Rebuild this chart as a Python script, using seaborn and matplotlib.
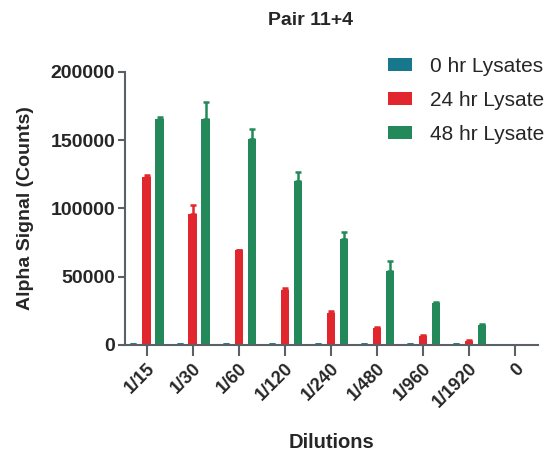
import numpy as np
import pandas as pd
import seaborn as sns
import matplotlib.pyplot as plt
from matplotlib.patches import Patch

dilutions = ["1/15", "1/30", "1/60", "1/120", "1/240", "1/480", "1/960", "1/1920", "0"]
series = ["0 hr Lysates", "24 hr Lysate", "48 hr Lysate"]

lys_0hr = [900, 700, 600, 600, 700, 300, 700, 800, 0]
lys_24hr = [122800, 95800, 69600, 40200, 23200, 12200, 6300, 2900, 0]
lys_48hr = [165700, 165700, 150700, 120000, 77600, 54100, 30400, 14700, 0]

err_0hr = [0, 0, 0, 0, 0, 0, 0, 0, 0]
err_24hr = [1500, 6900, 0, 1500, 1500, 1000, 1000, 600, 0]
err_48hr = [1000, 12000, 7500, 6600, 5000, 7400, 800, 800, 0]

colors = ["#17778c", "#e2262d", "#23895a"]

df = pd.DataFrame({
    "Dilutions": dilutions * 3,
    "series": np.repeat(series, len(dilutions)),
    "value": lys_0hr + lys_24hr + lys_48hr,
    "err": err_0hr + err_24hr + err_48hr,
})

sns.set_style("ticks")
plt.rcParams["font.family"] = ["Liberation Sans", "DejaVu Sans"]

fig = plt.figure(figsize=(5.6, 4.58), dpi=100)
ax = fig.add_axes([0.223, 0.247, 0.738, 0.596])

sns.barplot(data=df, x="Dilutions", y="value", hue="series", order=dilutions,
            hue_order=series, palette=colors, width=0.85, gap=0.36,
            errorbar=None, legend=False, linewidth=0, saturation=1, ax=ax)

# upper-only error bars, drawn from the bar positions seaborn produced
for i, s in enumerate(series):
    sub = df[(df["series"] == s) & (df["value"] > 0)]
    bars = [b for b in ax.containers[i] if b.get_height() > 0]
    xs = [b.get_x() + b.get_width() / 2 for b in bars]
    ax.errorbar(xs, sub["value"], yerr=[np.zeros(len(sub)), sub["err"]],
                fmt="none", ecolor=colors[i], elinewidth=1.8, capsize=2.0,
                capthick=1.8)

ax.set_ylim(0, 200000)
ax.set_xlim(-0.47, 8.5)
ax.set_yticks([0, 50000, 100000, 150000, 200000])
ax.set_yticklabels(["0", "50000", "100000", "150000", "200000"],
                   fontsize=14, fontweight="bold")
ax.set_xticks(range(len(dilutions)))
ax.set_xticklabels(dilutions, rotation=45, ha="right", rotation_mode="anchor",
                   fontsize=13, fontweight="bold")

for side in ["top", "right"]:
    ax.spines[side].set_visible(False)
for side in ["left", "bottom"]:
    ax.spines[side].set_color("#5a6066")
    ax.spines[side].set_linewidth(1.5)
ax.tick_params(axis="y", length=5, width=1.5, color="#5a6066", pad=2)
ax.tick_params(axis="x", length=8, width=1.5, color="#5a6066", pad=3)

ax.set_ylabel("Alpha Signal (Counts)", fontsize=14, fontweight="bold", labelpad=12)
ax.set_xlabel("Dilutions", fontsize=14.5, fontweight="bold", labelpad=16)
fig.text(0.555, 0.955, "Pair 11+4", fontsize=14, fontweight="bold",
         ha="center", va="center")

handles = [Patch(facecolor=c, edgecolor="none") for c in colors]
fig.legend(handles, series, loc="upper left", bbox_to_anchor=(0.693, 0.876),
           frameon=False, fontsize=15, handlelength=1.15, handleheight=0.55,
           handletextpad=0.85, labelspacing=0.72, borderaxespad=0.0,
           borderpad=0.0)

fig.savefig("out.png", dpi=100)
